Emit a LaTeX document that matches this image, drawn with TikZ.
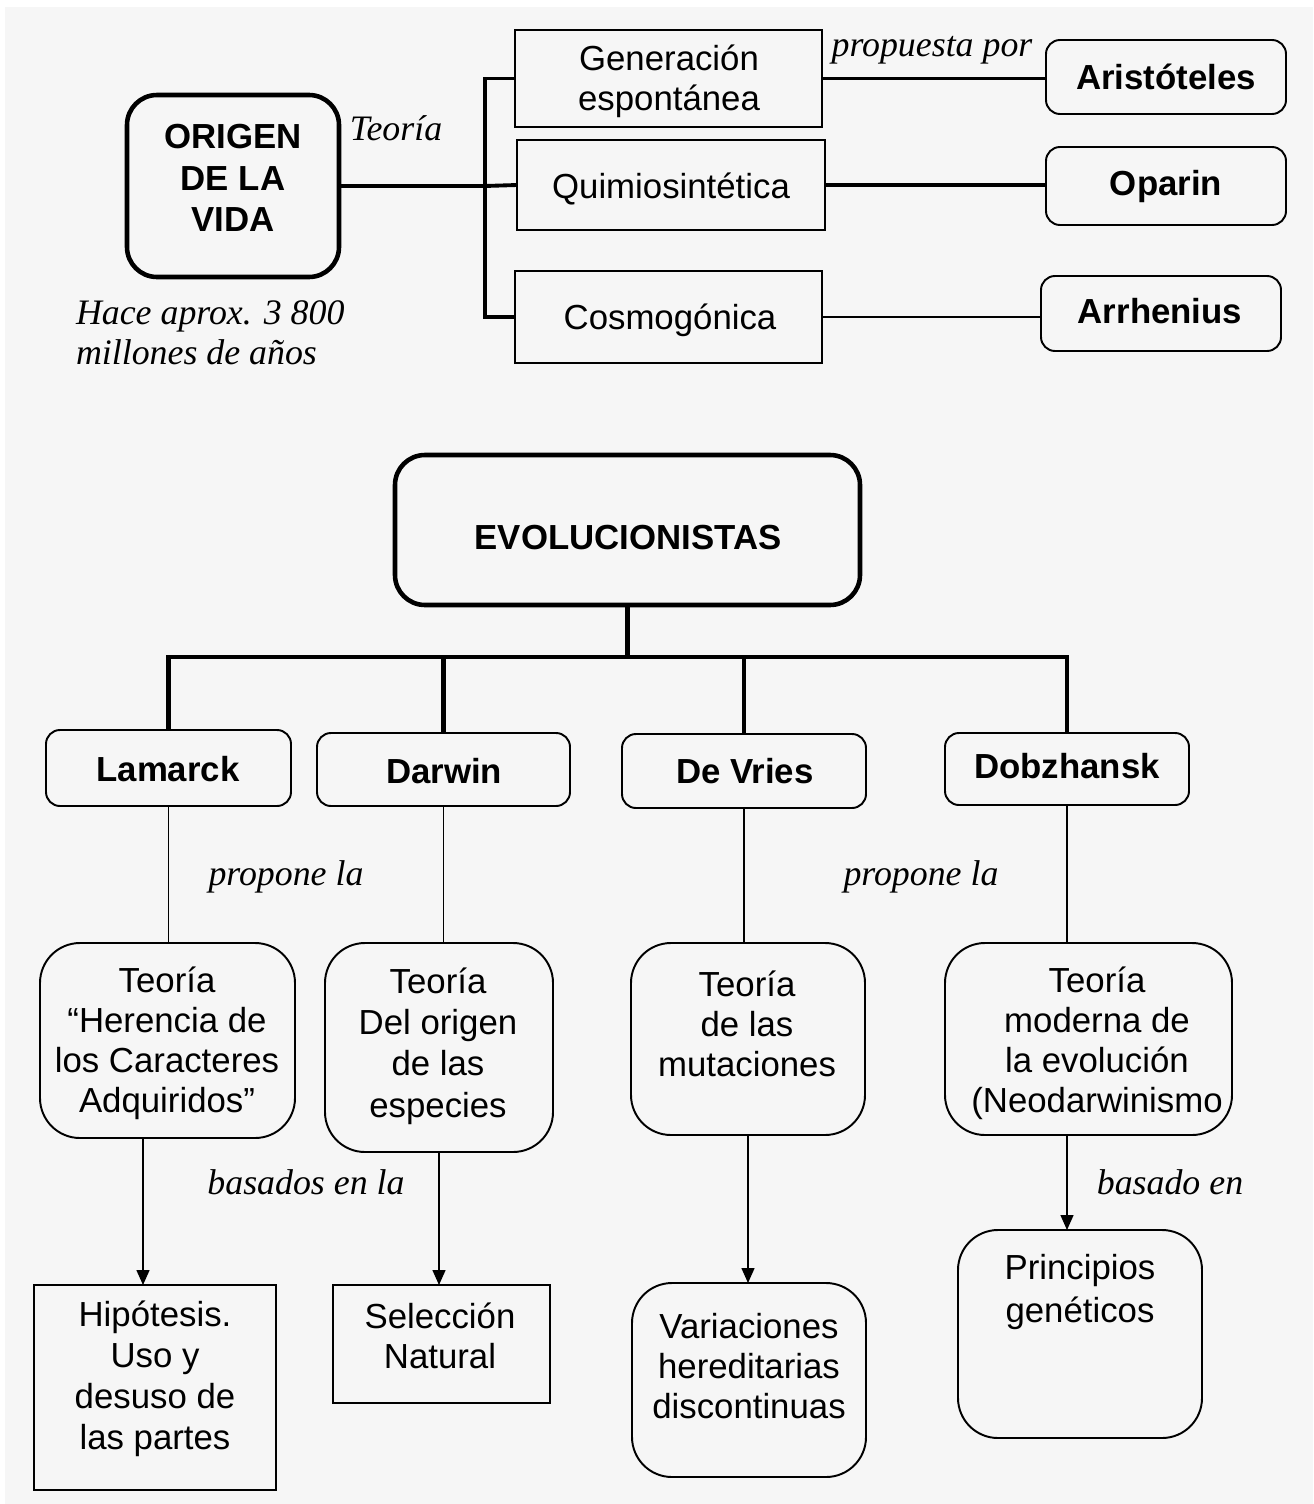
\documentclass[tikz,border=0pt]{standalone}
\usepackage{fontspec}
\setmainfont{Liberation Sans}
\newfontfamily\labelfont{Liberation Serif}
\usetikzlibrary{arrows.meta}
\definecolor{paper}{HTML}{F6F6F6}

\begin{document}
\begin{tikzpicture}[x=0.02cm,y=-0.02cm,
  every node/.style={inner sep=0pt, outer sep=0pt},
  sz/.style 2 args={minimum width=#1*0.02cm, minimum height=#2*0.02cm},
  plainbox/.style={draw, line width=1.1pt},
  namebox/.style={draw, line width=1.1pt, rounded corners=0.28cm},
  bigbox/.style={draw, line width=2.6pt, rounded corners=0.6cm},
  theorybox/.style={draw, line width=1.1pt, rounded corners=0.8cm},
  txt/.style={align=center, font=\fontsize{19.8}{22.7}\selectfont},
  btxt/.style={align=center, font=\fontsize{19.8}{23.8}\selectfont\bfseries},
  lab/.style={font=\labelfont\itshape\fontsize{20.4}{22.7}\selectfont},
  heavy/.style={line width=2.6pt, line join=miter},
  medium/.style={line width=1.7pt},
  light/.style={line width=1.1pt},
  fine/.style={line width=0.85pt},
  arrowline/.style={fine, -{Triangle[length=0.3cm,width=0.26cm]}}
]
\useasboundingbox (0,0) rectangle (1313,1504);
\fill[white] (0,0) rectangle (1313,1504);
\fill[paper] (5,7) rectangle (1313,1504);

% ---------- Origen de la vida ----------
\node[bigbox, sz={212}{182}] (origen) at (233,186) {};
\node[btxt] (origen-t) at (233,178) {ORIGEN\\DE LA\\VIDA};
\node[lab] (teoria) at (396,128) {Teoría};
\node[lab, align=left, anchor=west] (hace) at (76,333) {Hace aprox. 3 800\\millones de años};

\node[plainbox, sz={307}{97}] (gen) at (668.5,78.5) {};
\node[txt] (gen-t) at (669,81) {Generación\\espontánea};
\node[plainbox, sz={308}{90}] (qui) at (671,185) {};
\node[txt] (qui-t) at (671,189) {Quimiosintética};
\node[plainbox, sz={307}{92}] (cos) at (668.5,317) {};
\node[txt] (cos-t) at (670,320) {Cosmogónica};

\node[namebox, sz={240}{74}] (ari) at (1166,77) {};
\node[btxt] (ari-t) at (1166,77) {Aristóteles};
\node[namebox, sz={240}{78}] (opa) at (1166,186) {};
\node[btxt] (opa-t) at (1166,187) {Oparin};
\node[namebox, sz={240}{75}] (arr) at (1161,313.5) {};
\node[btxt] (arr-t) at (1160,311) {Arrhenius};
\node[lab] (propuesta) at (932,50) {propuesta por};

\coordinate (bus) at (485,186);
\draw[heavy] (origen.east) -- (bus);
\draw[line width=2.2pt, line join=miter] (gen.west) -- (gen.west -| bus) |- (cos.west);
\draw[line width=2.2pt] (bus) -- (qui.west);
\draw[medium] (gen.east) -- (gen.east -| ari.west);
\draw[heavy] (qui.east) -- (qui.east -| opa.west);
\draw[light] (cos.east) -- (cos.east -| arr.west);

% ---------- Evolucionistas ----------
\node[bigbox, sz={465}{150}] (evo) at (627.5,530) {};
\node[btxt] (evo-t) at (628,538) {EVOLUCIONISTAS};

\node[namebox, sz={245}{76}] (lam) at (168.5,768) {};
\node[btxt] (lam-t) at (168,769) {Lamarck};
\node[namebox, sz={253}{73}] (dar) at (443.5,769.5) {};
\node[btxt] (dar-t) at (444,771) {Darwin};
\node[namebox, sz={244}{74}] (dev) at (744,771) {};
\node[btxt] (dev-t) at (745,771) {De Vries};
\node[namebox, sz={244}{72}] (dob) at (1067,769) {};
\node[btxt] (dob-t) at (1067,766) {Dobzhansk};

\coordinate (hub) at (627.5,657);
\draw[heavy] (evo.south) -- (hub);
\draw[heavy] (lam.north) |- (hub);
\draw[heavy] (dob.north) |- (hub);
\draw[heavy] (dar.north) -- (dar.north |- hub);
\draw[heavy] (dev.north) -- (dev.north |- hub);

\node[theorybox, sz={255}{195}] (t1) at (167.5,1040.5) {};
\node[txt] (t1-t) at (167,1043) {Teoría\\“Herencia de\\los Caracteres\\Adquiridos”};
\node[theorybox, sz={228}{209}] (t2) at (439,1047.5) {};
\node[txt, font=\fontsize{19.8}{23.6}\selectfont] (t2-t) at (438,1046) {Teoría\\Del origen\\de las\\especies};
\node[theorybox, sz={234}{192}] (t3) at (748,1039) {};
\node[txt] (t3-t) at (747,1024) {Teoría\\de las\\mutaciones};
\node[theorybox, sz={287}{192}] (t4) at (1088.5,1039) {};
\node[txt] (t4-t) at (1097,1043) {Teoría\\moderna de\\la evolución\\(Neodarwinismo};

\draw[fine] (lam.south) -- (lam.south |- t1.north);
\draw[fine] (dar.south) -- (dar.south |- t2.north);
\draw[fine] (dev.south) -- (dev.south |- t3.north);
\draw[fine] (dob.south) -- (dob.south |- t4.north);
\node[lab] (propone1) at (286,877) {propone la};
\node[lab] (propone2) at (921,877) {propone la};

\node[plainbox, sz={242}{205}] (hip) at (155,1387.5) {};
\node[txt, font=\fontsize{19.8}{23.4}\selectfont] (hip-t) at (155,1379) {Hipótesis.\\Uso y\\desuso de\\las partes};
\node[plainbox, sz={217}{118}] (sel) at (441.5,1344) {};
\node[txt] (sel-t) at (440,1336) {Selección\\Natural};
\node[theorybox, sz={234}{194}] (var) at (749,1380) {};
\node[txt] (var-t) at (749,1366) {Variaciones\\hereditarias\\discontinuas};
\node[theorybox, sz={244}{208}] (pri) at (1080,1334) {};
\node[txt, font=\fontsize{19.8}{24.4}\selectfont] (pri-t) at (1080,1292) {Principios\\genéticos};

\coordinate (a1) at (143,0);
\draw[arrowline] (t1.south -| a1) -- (hip.north -| a1);
\draw[arrowline] (t2.south) -- (t2.south |- sel.north);
\draw[arrowline] (t3.south) -- (t3.south |- var.north);
\draw[arrowline] (t4.south -| dob.south) -- (pri.north -| dob.south);
\node[lab] (basados) at (306,1182) {basados en la};
\node[lab] (basado) at (1170,1182) {basado en};
\end{tikzpicture}
\end{document}
